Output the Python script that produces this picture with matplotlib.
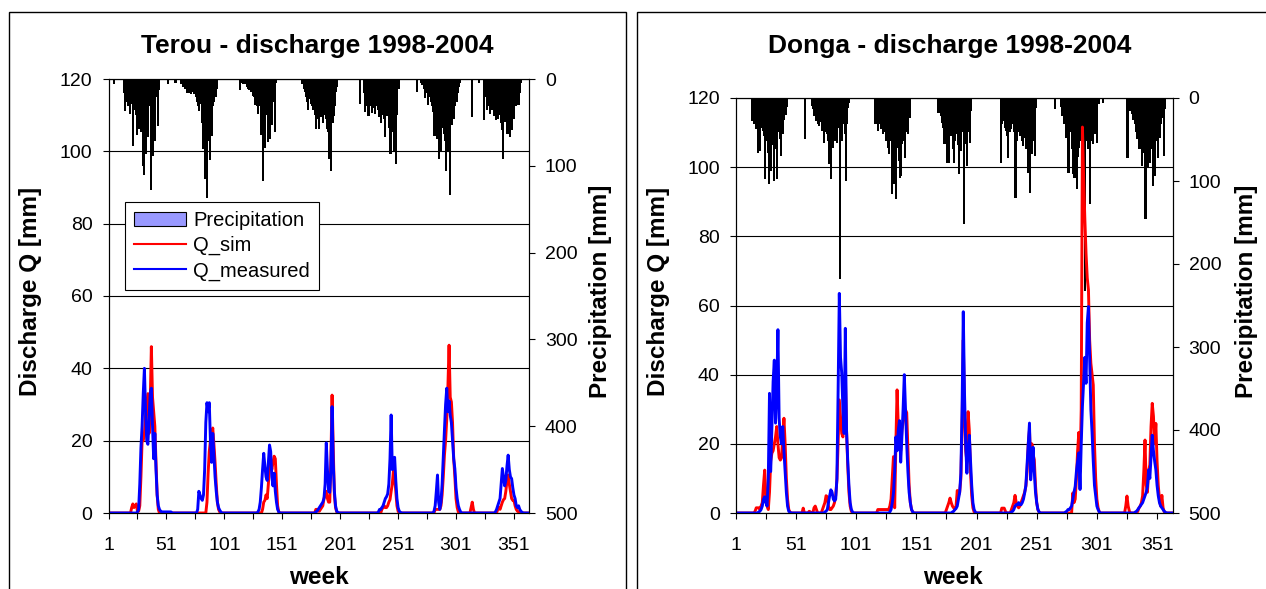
import numpy as np
import matplotlib
matplotlib.use("Agg")
import matplotlib.pyplot as plt
from matplotlib.patches import Patch, Rectangle
from matplotlib.lines import Line2D

plt.rcParams["font.family"] = ["Liberation Sans", "DejaVu Sans"]

N_WEEKS = 364

# each series is a list of (first week, weekly values); weeks not listed are 0
TEROU_PRECIP = [
    (5, [4.6]),
    (14, [15, 36, 25, 30, 20, 39, 28, 22, 76, 35, 40, 63, 30, 56, 45, 60, 99, 109, 50, 85, 40, 66, 30, 127, 45, 88, 25, 70, 20, 53, 12]),
    (52, [5]),
    (58, [3, 3]),
    (63, [5, 4, 8, 6, 10, 15, 12, 15, 10, 16, 14, 16, 12, 20, 25, 30, 36, 28, 50, 80, 45, 114, 60, 136, 70, 92, 40, 65, 30, 25, 20, 10]),
    (114, [12, 0, 3, 5, 5, 5, 8, 10, 12, 10, 14, 18, 20, 29, 25, 30, 39, 30, 63, 45, 116, 50, 78, 40, 72, 35, 68, 30, 52, 25, 60, 3]),
    (168, [5, 10, 14, 20, 25, 34, 22, 28, 30, 35, 27, 40, 57, 45, 57, 38, 43, 35, 50, 40, 45, 56, 60, 91, 70, 105, 50, 41, 30, 14, 8]),
    (218, [28, 0, 0, 15, 37, 25, 30, 41, 30, 25, 38, 28, 32, 39, 30, 35, 43, 35, 50, 40, 45, 66, 40, 41, 35, 55, 85, 60, 50, 83, 70, 97, 40, 10]),
    (267, [14, 0, 0, 3, 6, 5, 10, 21, 15, 29, 20, 14, 25, 30, 37, 64, 45, 68, 50, 91, 60, 83, 55, 62, 70, 105, 60, 83, 132, 40, 52, 35, 45, 30, 25, 15, 8, 3]),
    (314, [43]),
    (320, [3]),
    (325, [46, 20, 34, 25, 30, 39, 28, 35, 41, 30, 46, 35, 45, 40, 49, 58, 91, 40, 48, 35, 62, 45, 66, 40, 58, 35, 45, 30, 29, 20, 29, 15, 4]),
]
TEROU_SIM = [
    (21, [1.5, 2.5, 1.5, 2, 2.5, 0.5, 0.5, 2, 10, 20, 20, 22, 27, 30, 33, 22, 30, 46, 32, 28, 24, 14, 5, 1]),
    (86, [3, 11, 17, 20, 21, 23.5, 19, 14, 8, 3, 1, 0.3]),
    (134, [1, 3, 3.5, 5, 4, 8, 13, 14, 12, 14, 15.7, 15, 8, 2, 0.3]),
    (180, [1, 1, 0.5, 0.5, 1, 1.5, 2, 4, 5, 6, 4, 3, 3, 15, 32.6, 18, 5, 1.5, 0.3]),
    (237, [1, 1.5, 2, 1.5, 1.5, 2, 3, 3.7, 6, 8, 11.8, 10, 6, 2, 0.5]),
    (283, [1, 1, 1, 1, 1, 2, 5, 10, 16, 20, 26, 35, 46.4, 32, 30.7, 25, 15, 10, 4, 1.5, 0.3]),
    (314, [1.5, 3, 1]),
    (337, [1, 1.5, 1, 2, 3, 3.7, 4, 6, 9, 10.5, 8, 6, 4, 3.5, 3.5, 2, 1, 0.5, 0.3]),
]
TEROU_MEAS = [
    (26, [0.3, 1, 8, 18, 24, 33, 40, 28, 20, 19, 26, 33, 34.5, 24, 15, 22, 12, 5, 2, 1, 0.5, 0.3, 0.3, 0.3, 0.3, 0.3, 0.3, 0.3, 0.3, 0.3]),
    (78, [1, 6, 5, 4, 3.5, 5, 12, 25, 30.5, 28, 30.5, 20, 14, 22, 16, 10, 6, 3, 1.5, 0.8, 0.3]),
    (130, [0.3, 1, 3, 7, 12, 16.5, 13, 10, 9, 14, 18.8, 17, 10, 7.5, 11, 6, 3, 1, 0.3]),
    (180, [0.3, 0.5, 1, 1.5, 2, 2.5, 3, 4, 8, 19.4, 12, 6, 5.7, 12, 29.4, 14, 6, 2, 0.5, 0.2]),
    (234, [0.3, 1, 1, 1.5, 2, 3, 4, 4.5, 5.3, 8, 15, 27.1, 12, 14, 15.4, 9, 4, 1.5, 0.5, 0.2]),
    (282, [0.5, 2, 6, 10.5, 3, 1, 3, 8, 15.7, 22.9, 30, 34.5, 28, 31, 27, 25, 20, 15, 12.2, 7, 4, 2, 1, 0.3]),
    (335, [0.3, 1, 2, 3, 4, 8, 12.3, 10, 7.5, 9, 13, 16, 12, 10, 9.5, 7, 5, 4, 2, 1.5, 2, 1, 0.5, 0.2]),
]

DONGA_PRECIP = [
    (14, [26.5, 20, 30, 36.5, 30, 64.7, 40, 62.7, 35, 38.6, 45, 96.8, 50, 64.7, 102.8, 60, 86.7, 55, 98.8, 48, 60, 96.8, 40, 48, 68.7, 35, 42, 25, 19.7, 10]),
    (58, [48.6]),
    (64, [8, 12.4, 20, 26.5, 22, 30, 32.5, 28, 38.6, 35, 52.6, 40, 42.6, 50, 78.7, 60, 96.8, 58.6, 45, 50.6, 40, 52.6, 35, 217, 45, 50.6, 30, 42.6, 98.8, 30, 10.4, 5]),
    (116, [30.5, 25, 30, 38.6, 30, 36.5, 35, 42.6, 40, 50.6, 45, 58.6, 66.7, 50, 114.9, 80, 102.8, 70, 120.9, 58.6, 75, 94.8, 92.8, 54.6, 50, 70.7, 40, 35, 42.6, 22.5]),
    (169, [16.4, 10, 20, 28.5, 35, 54.6, 40, 76.7, 50, 76.7, 45, 38.6, 60, 76.7, 50, 42.6, 55, 90.8, 45, 62.6, 40, 151, 54.6, 45, 80.7, 40, 52.6, 14.4]),
    (221, [76.7, 30, 26.5, 35, 38.6, 45, 70.7, 40, 36.5, 30, 26.5, 40, 118.9, 50, 38.6, 40, 44.6, 50, 56.6, 45, 46.6, 60, 88.8, 70, 112.9, 50, 66.7, 50, 68.7, 10.4]),
    (266, [12.4, 0, 0, 0, 0, 10, 20.5, 30.5, 25, 46.6, 35, 88.8, 40, 38.6, 60, 90.8, 94.8, 60, 108.8, 70, 58.6, 50, 74.7, 45, 36.5, 231, 50.6, 60.6, 45, 126.9, 50, 54.6, 40, 42.6, 30, 52.6, 6.4, 0, 0, 0, 4.4]),
    (326, [70.7, 10, 14.4, 15, 18.5, 25, 30.5, 40, 48.6, 40, 60.6, 50, 80.7, 64.7, 55, 145, 60, 82.7, 50, 76.7, 60, 104.8, 70, 92.8, 50, 70.7, 40, 46.6, 30, 22.5, 68.7, 12.4]),
]
DONGA_SIM = [
    (17, [0.5, 1.5, 1.5, 1.5, 1, 2, 3, 8, 12.4, 5, 2, 1, 6, 15, 17.3, 18, 20, 22, 25, 20, 16, 15.3, 16, 22, 27.4, 20, 10, 4, 1, 0.3]),
    (57, [1.4]),
    (62, [0.5, 0.3]),
    (66, [1.5, 2, 1]),
    (73, [1, 2, 3, 5, 4.7, 2, 1, 1, 1.5, 2, 3, 5, 9.5, 20, 32.7, 28, 23, 22, 30, 40, 24, 14, 6, 2, 0.5]),
    (119, [1, 1, 1, 1, 1, 1, 1, 1, 1, 1, 2, 4, 10, 16.3, 1.5, 20, 35.6, 25, 20, 18, 24, 26, 28, 29.8, 29, 18, 8, 3, 1, 0.3]),
    (176, [1, 2, 3, 4.3, 3, 2, 1.5, 1, 2, 6.5, 5, 6, 10, 25, 50, 30, 18, 15, 29.3, 24, 12, 5, 1.5, 0.3]),
    (222, [1.4, 1.4, 1.4, 0.5, 0, 0, 0, 0, 1, 2, 3, 5.1, 3, 2, 1.5, 2, 3, 4, 5, 6, 7.7, 12, 20, 24, 15, 20, 17, 15.4, 8, 3, 1, 0.3]),
    (281, [5.8, 3, 4, 10, 18, 23.3, 12, 30, 111.6, 97, 85, 75, 68, 64.5, 50, 43.3, 40, 37, 20, 10, 4, 1.5, 0.3]),
    (325, [2, 4.9, 2, 0.5, 0, 0, 0, 0, 0, 0, 0.5, 1.5, 2, 3, 5, 12, 21.1, 8, 6, 12, 14, 25, 31.7, 28, 20, 25.9, 15, 8, 4, 2, 5.1, 1.5, 0.3]),
]
DONGA_MEAS = [
    (20, [0.3, 0.5, 1, 2, 4, 4.7, 3, 2, 10, 34.6, 12, 25, 38, 44.2, 26, 35, 53, 27.4, 22, 20, 25, 17.8, 12, 6, 2, 0.5, 0.2]),
    (75, [0.3, 0.5, 1, 3, 5, 6.7, 6, 4, 3.5, 4, 10, 35, 63.5, 45, 40.5, 30, 23, 53.4, 23.8, 15, 8, 3, 1, 0.3]),
    (129, [0.3, 1, 3, 5.8, 12, 22, 18, 24, 26.7, 14.7, 22, 30, 40, 30, 20, 12, 6, 3, 1, 0.3]),
    (181, [0.3, 0.5, 1, 1.3, 2, 4, 6, 11.5, 30, 58.2, 35, 20, 11.5, 18, 22.5, 15, 8, 3, 1, 0.3]),
    (230, [0.3, 0.5, 1, 2, 2.4, 2.4, 3, 2.4, 2.4, 3, 4, 5.8, 8, 14, 20, 26, 9.6, 14, 19, 12, 6, 3, 1, 0.3]),
    (275, [0.3, 0.5, 1, 1, 1.5, 2, 4, 6, 7.7, 12, 15, 17.4, 6.8, 20, 30.9, 38, 45, 37.5, 55, 59.7, 45, 30, 23.3, 15, 8, 5, 2, 1, 0.3]),
    (333, [0.3, 0.5, 1, 1.5, 2, 2.5, 3, 4, 5, 6, 7.7, 12.5, 10, 16, 22.5, 18, 15, 12.5, 8, 5, 3, 2, 1.5, 1, 0.5, 0.2]),
]

W, H = 1266, 589


def weekly(segments):
    arr = np.zeros(N_WEEKS)
    for start, vals in segments:
        arr[start - 1:start - 1 + len(vals)] = vals
    return arr


def fbox(x0, y0, x1, y1):
    # pixel box (top-left origin) -> figure fraction rect
    return [x0 / W, 1 - y1 / H, (x1 - x0) / W, (y1 - y0) / H]


def panel(fig, rect, title, title_xy, precip, qsim, qmeas, cx, lab_x, legend=False):
    weeks = np.arange(1, N_WEEKS + 1)
    ax = fig.add_axes(fbox(*rect))
    ax2 = ax.twinx()
    ax.set_zorder(ax2.get_zorder() + 1)
    ax.patch.set_visible(False)

    ax2.bar(weeks, weekly(precip), width=0.9, color="black", edgecolor="black",
            linewidth=0.4, antialiased=False)
    ax2.set_ylim(500, 0)
    ax2.set_yticks(range(0, 501, 100))

    ax.plot(weeks, weekly(qsim), color="#ff0000", lw=2.1, solid_joinstyle="round")
    ax.plot(weeks, weekly(qmeas), color="#0000ff", lw=2.1, solid_joinstyle="round")
    ax.set_ylim(0, 120)
    ax.set_xlim(1, N_WEEKS)
    ax.set_yticks(range(0, 121, 20))
    ax.grid(axis="y", color="black", lw=0.8)
    ax.set_axisbelow(True)

    ticks = list(range(1, N_WEEKS + 1, 25))
    ax.set_xticks(ticks)
    ax.set_xticklabels([str(t) if i % 2 == 0 else "" for i, t in enumerate(ticks)])

    for a in (ax, ax2):
        a.tick_params(direction="out", length=4.5, width=0.8, labelsize=14, pad=7)
        for s in a.spines.values():
            s.set_linewidth(0.8)
    ax.tick_params(axis="x", pad=13)

    fig.text(title_xy[0] / W, 1 - title_xy[1] / H, title, ha="center", va="center",
             fontsize=19, fontweight="bold")
    fig.text(cx / W, 1 - 577 / H, "week", ha="center", va="center", fontsize=17.5, fontweight="bold")
    fig.text(lab_x[0] / W, 1 - 291 / H, "Discharge Q [mm]", rotation=90, ha="center", va="center",
             fontsize=17.5, fontweight="bold")
    fig.text(lab_x[1] / W, 1 - 291 / H, "Precipitation [mm]", rotation=90, ha="center", va="center",
             fontsize=17.5, fontweight="bold")

    if legend:
        handles = [Patch(facecolor="#9999ff", edgecolor="black", lw=0.8),
                   Line2D([], [], color="#ff0000", lw=1.5),
                   Line2D([], [], color="#0000ff", lw=1.5)]
        leg = ax.legend(handles, ["Precipitation", "Q_sim", "Q_measured"],
                        loc="upper left", bbox_to_anchor=(125 / W, 1 - 202 / H),
                        bbox_transform=fig.transFigure, borderaxespad=0,
                        fontsize=14.5, frameon=True, fancybox=False, framealpha=1,
                        edgecolor="black", handlelength=2.6, handleheight=0.7,
                        handletextpad=0.35, labelspacing=0.3, borderpad=0.45)
        leg.get_frame().set_linewidth(0.8)
    return ax


fig = plt.figure(figsize=(W / 100, H / 100), dpi=100)

# panel frames
fig.patches.append(Rectangle((9 / W, -0.05), 617 / W, 1.05 - 12 / H, transform=fig.transFigure,
                             fill=False, lw=1, edgecolor="black"))
fig.patches.append(Rectangle((637 / W, -0.05), 700 / W, 1.05 - 12 / H, transform=fig.transFigure,
                             fill=False, lw=1, edgecolor="black"))

panel(fig, (108.5, 79, 529, 513), "Terou - discharge 1998-2004", (317, 46),
      TEROU_PRECIP, TEROU_SIM, TEROU_MEAS, 319, (31, 601), legend=True)
panel(fig, (735.8, 98, 1172.7, 513), "Donga - discharge 1998-2004", (950, 46),
      DONGA_PRECIP, DONGA_SIM, DONGA_MEAS, 953, (659, 1246))

fig.savefig("out.png", dpi=100)
